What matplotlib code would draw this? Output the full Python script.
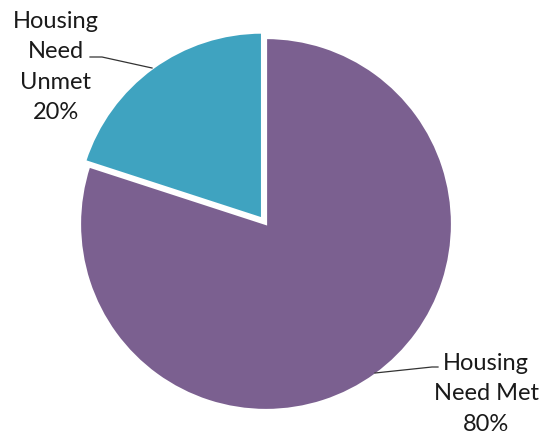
import matplotlib
matplotlib.use("Agg")
import matplotlib.pyplot as plt

# Share of housing need met vs. unmet
categories = ["Housing\nNeed Met", "Housing\nNeed\nUnmet"]
values = [80, 20]
colors = ["#7B6090", "#3FA3C0"]

W, H = 556, 436
fig = plt.figure(figsize=(W / 100, H / 100), dpi=100)
ax = fig.add_axes([0, 0, 1, 1])

cx, cy, r = 266, H - 224, 186
# pie offsets are in data units, so scale the pull-out by the radius
wedges, _ = ax.pie(
    values,
    colors=colors,
    startangle=90,
    counterclock=False,
    explode=[0, 0.036 * r],
    center=(cx, cy),
    radius=r,
    wedgeprops=dict(edgecolor="white", linewidth=1.6),
    frame=True,
)
ax.set_xlim(0, W)
ax.set_ylim(0, H)
ax.set_aspect("equal")
ax.axis("off")

font = dict(family="Lato", fontsize=17, color="#1a1a1a", ha="center",
            va="center", linespacing=1.55)

# label for "met" (bottom right)
ax.text(486, H - 394, f"{categories[0]}\n{values[0]}%", **font)
ax.plot([375, 432, 438], [H - 373, H - 367, H - 367], color="#333333", lw=0.9)

# label for "unmet" (top left)
ax.text(56, H - 67, f"{categories[1]}\n{values[1]}%", **font)
ax.plot([90, 102, 152], [H - 57, H - 57, H - 68], color="#333333", lw=0.9)

fig.savefig("out.png", dpi=100)
